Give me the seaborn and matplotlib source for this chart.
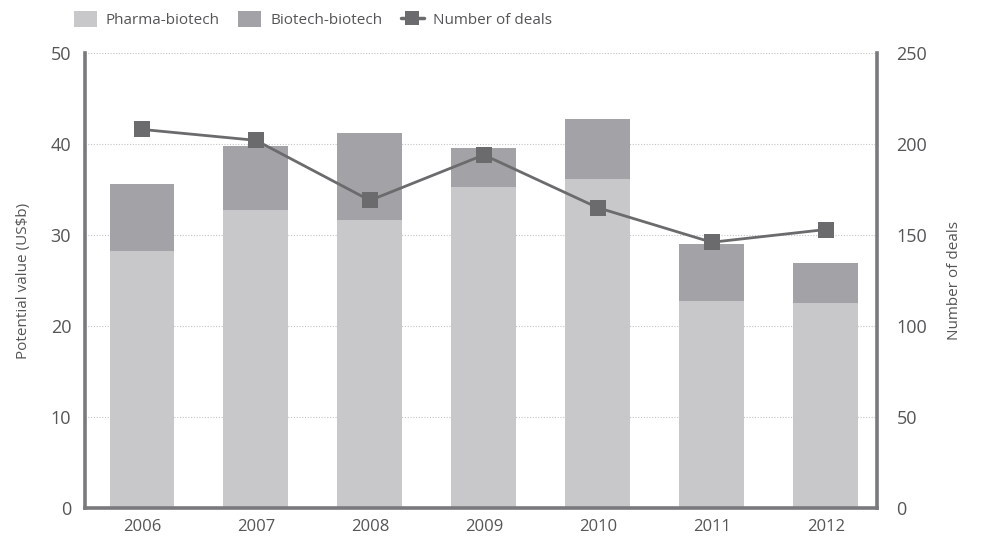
import matplotlib
matplotlib.use("Agg")
import matplotlib.pyplot as plt
from matplotlib.patches import Patch
from matplotlib.lines import Line2D
import seaborn as sns
import pandas as pd

years = ["2006", "2007", "2008", "2009", "2010", "2011", "2012"]
pharma_biotech = [28.2, 32.7, 31.6, 35.3, 36.2, 22.7, 22.5]
biotech_biotech = [7.4, 7.1, 9.6, 4.3, 6.5, 6.3, 4.4]
deals = [208, 202, 169, 194, 165, 146, 153]

left_ticks = [0, 10, 20, 30, 40, 50]
right_ticks = [0, 50, 100, 150, 200, 250]

c_pharma = "#c8c8ca"
c_biotech = "#a3a2a6"
c_line = "#6b6b6d"
c_spine = "#7a797d"
c_text = "#555557"

sns.set_theme(style="white")
plt.rcParams["font.family"] = ["Open Sans", "DejaVu Sans"]

df = pd.DataFrame({
    "year": years,
    "pharma": pharma_biotech,
    "total": [p + b for p, b in zip(pharma_biotech, biotech_biotech)],
    "idx": list(range(len(years))),
    "deals": deals,
})

fig = plt.figure(figsize=(9.82, 5.39), dpi=100)
ax = fig.add_axes([0.0866, 0.0575, 0.8064, 0.8442])

# stacked bars: full height in the darker shade, pharma part on top of it
sns.barplot(data=df, x="year", y="total", color=c_biotech, width=0.57,
            saturation=1, linewidth=0, edgecolor="none", ax=ax, zorder=2)
sns.barplot(data=df, x="year", y="pharma", color=c_pharma, width=0.57,
            saturation=1, linewidth=0, edgecolor="none", ax=ax, zorder=3)
ax.set_xlim(-0.5, 6.45)
ax.set_ylim(0, 50)
ax.set_yticks(left_ticks)
ax.set_xlabel("")
ax.set_ylabel("Potential value (US$b)", fontsize=11, color=c_text, labelpad=14)
ax.yaxis.grid(True, linestyle=(0, (1, 1.5)), color="#c4c4c4", linewidth=0.8, zorder=0)
ax.set_axisbelow(True)

ax2 = ax.twinx()
sns.lineplot(data=df, x="idx", y="deals", color=c_line, linewidth=2,
             marker="s", markersize=11.5, markeredgewidth=0, ax=ax2, zorder=5)
ax2.set_ylim(0, 250)
ax2.set_yticks(right_ticks)
ax2.set_xlim(-0.5, 6.45)
ax2.set_xlabel("")
ax2.set_ylabel("Number of deals", fontsize=11, color=c_text, labelpad=14)

for a in (ax, ax2):
    a.spines["top"].set_visible(False)
    for side in ("left", "right", "bottom"):
        a.spines[side].set_color(c_spine)
        a.spines[side].set_linewidth(2.6)
        a.spines[side].set_zorder(10)
    a.tick_params(axis="both", length=0, labelsize=13, labelcolor=c_text)
ax.spines["right"].set_visible(False)
ax2.spines["left"].set_visible(False)
ax2.spines["bottom"].set_visible(False)
ax.tick_params(axis="y", pad=10)
ax.tick_params(axis="x", pad=8, labelsize=12)
ax2.tick_params(axis="y", pad=14)

handles = [
    Patch(facecolor=c_pharma, edgecolor="none"),
    Patch(facecolor=c_biotech, edgecolor="none"),
    Line2D([0], [0], color=c_line, linewidth=2.5, marker="s", markersize=10,
           markeredgewidth=0),
]
labels = ["Pharma-biotech", "Biotech-biotech", "Number of deals"]
fig.legend(handles, labels, loc="upper left", bbox_to_anchor=(0.061, 1.005),
           ncol=3, frameon=False, fontsize=11, labelcolor=c_text,
           handlelength=1.5, handleheight=1.2, handletextpad=0.6,
           columnspacing=1.2)

fig.savefig("out.png", dpi=100)
